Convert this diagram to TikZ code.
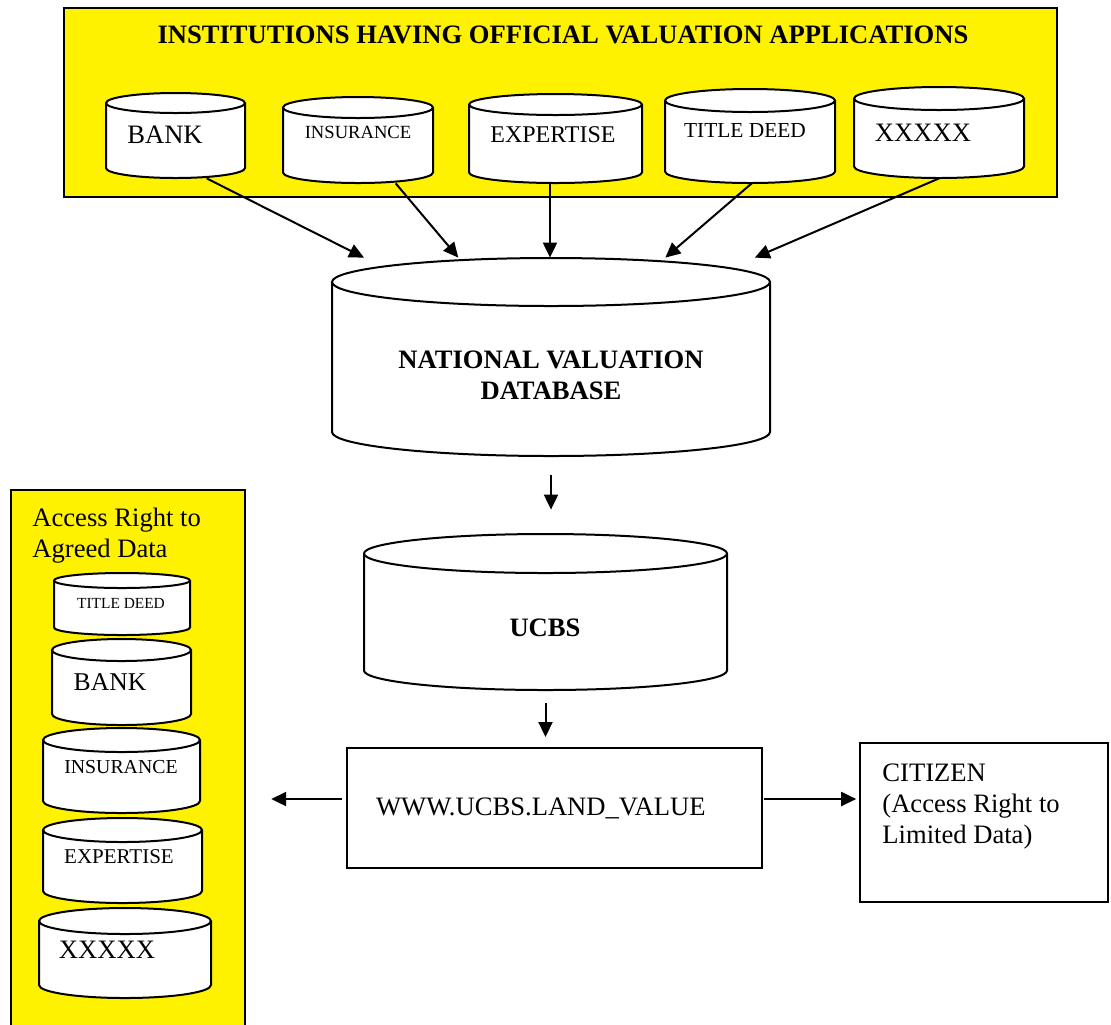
\documentclass[tikz,border=0pt]{standalone}
\usepackage{fontspec}
\setmainfont{Liberation Serif}
\usetikzlibrary{arrows.meta}

\newcommand{\fsz}[1]{\fontsize{#1}{15.5}\selectfont}
% drum: name, x1, y1 (top), x2, y2 (bottom), radius of the ends
\newcommand{\dbdrum}[6]{%
  \node[minimum width={(#4-#2)*0.5pt}, minimum height={(#3-(#5))*0.5pt}, inner sep=0pt] (#1) at ({(#2+#4)/2},{(#3+(#5))/2}) {};
  \draw[drum] (#2,#3-#6) -- (#2,#5+#6) arc[start angle=180, end angle=360, x radius={(#4-#2)/2}, y radius=#6] -- (#4,#3-#6) arc[start angle=0, end angle=180, x radius={(#4-#2)/2}, y radius=#6] -- cycle;
  \draw[drum] (#2,#3-#6) arc[start angle=180, end angle=360, x radius={(#4-#2)/2}, y radius=#6];
}

\begin{document}
\begin{tikzpicture}[x=0.5pt,y=0.5pt,
  drum/.style={draw=black, fill=white, line width=1pt},
  panel/.style={draw=black, fill=yellow, line width=1.2pt, inner sep=0pt},
  heading/.style={font=\fsz{13.3}\bfseries},
  flow/.style={line width=1pt, -{Triangle[length=7.5pt, width=7pt]}},
  font=\fsz{13.3}]
\useasboundingbox (0,0) rectangle (1111,-1024);
% yellow panels and boxes
\node[panel, minimum width=496.5pt, minimum height=94.5pt] (inst) at (560.5,-102.5) {};
\node[panel, minimum width=117pt, minimum height=270pt] (agreed) at (128,-760) {};
\node[draw, line width=1pt, minimum width=207.5pt, minimum height=60pt] (www) at (554.5,-808) {};
\node[draw, line width=0.8pt, minimum width=124pt, minimum height=79.5pt] (citizen) at (984,-822.5) {};
% institutions
\dbdrum{bank}{106}{-93}{245}{-178}{10}
\dbdrum{insurance}{283}{-97}{433}{-183}{10.5}
\dbdrum{expertise}{469}{-94}{642}{-183}{10.5}
\dbdrum{deed}{665}{-89}{835}{-183}{11.5}
\dbdrum{xxxxx}{854}{-87}{1024}{-178}{11.5}
% databases
\dbdrum{nvd}{332}{-258}{770}{-456}{24}
\dbdrum{ucbs}{364}{-534}{727}{-690}{19.5}
% agreed data
\dbdrum{adeed}{54}{-573}{190}{-635}{7.5}
\dbdrum{abank}{52}{-639}{191}{-725}{11}
\dbdrum{ains}{43}{-728}{200}{-813}{12}
\dbdrum{aexp}{43}{-818}{202}{-903}{12}
\dbdrum{axx}{39}{-908}{211}{-998}{13}
% texts
\node[heading] (inst-txt) at (563,-35) {INSTITUTIONS HAVING OFFICIAL VALUATION APPLICATIONS};
\node (bank-txt) at (165,-135) {BANK};
\node[font=\fsz{9.3}] (insurance-txt) at (358,-132) {INSURANCE};
\node[font=\fsz{12}] (expertise-txt) at (553,-135) {EXPERTISE};
\node[font=\fsz{10.7}] (deed-txt) at (745,-131) {TITLE DEED};
\node (xxxxx-txt) at (923,-133) {XXXXX};
\node[heading, align=center] (nvd-txt) at (551,-375) {NATIONAL VALUATION\\DATABASE};
\node[heading] (ucbs-txt) at (545,-628) {UCBS};
\node[anchor=west] (www-txt) at (369,-808) {WWW.UCBS.LAND\_VALUE};
\node[anchor=north west, align=left, inner sep=0pt] (citizen-txt) at (882,-763) {CITIZEN\\(Access Right to\\Limited Data)};
\node[anchor=north west, align=left, inner sep=0pt] (agreed-txt) at (32,-508) {Access Right to\\Agreed Data};
\node[font=\fsz{7.7}] (adeed-txt) at (121,-603) {TITLE DEED};
\node[font=\fsz{12.8}] (abank-txt) at (110,-682) {BANK};
\node[font=\fsz{9.9}] (ains-txt) at (121,-767) {INSURANCE};
\node[font=\fsz{10.5}] (aexp-txt) at (119,-857) {EXPERTISE};
\node (axx-txt) at (107,-950) {XXXXX};
% arrows
\draw[flow] (bank.-54) -- (nvd.152);
\draw[flow] (insurance.-49) -- (nvd.133);
\draw[flow] (expertise.-97) -- (expertise.-97 |- nvd.north);
\draw[flow] (deed.-88) -- (nvd.41);
\draw[flow] (xxxxx.south) -- (nvd.26);
\draw[flow, shorten <=9.5pt, shorten >=12pt] (nvd.south) -- (nvd.south |- ucbs.north);
\draw[flow, shorten <=6.5pt, shorten >=5pt] (ucbs.south) -- (ucbs.south |- www.north);
\coordinate (wwwr) at ([yshift=4.5pt]www.east);
\coordinate (wwwl) at ([yshift=4.5pt]www.west);
\draw[flow, shorten <=0.5pt, shorten >=1.5pt] (wwwr) -- (wwwr -| citizen.west);
\draw[flow, shorten <=2pt, shorten >=12.5pt] (wwwl) -- (wwwl -| agreed.east);
\end{tikzpicture}
\end{document}
